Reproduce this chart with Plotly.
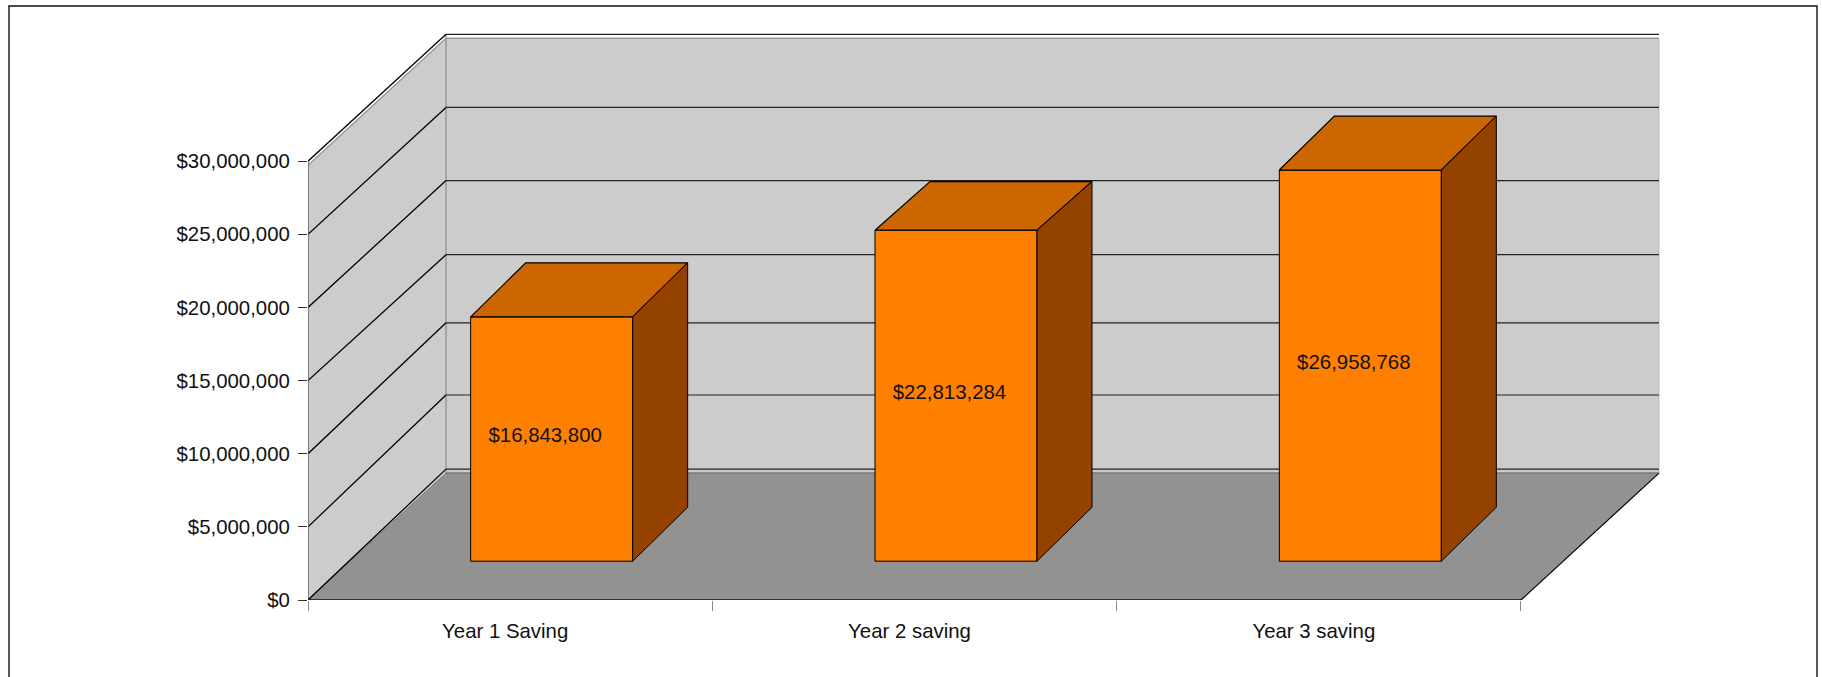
import plotly.graph_objects as go

# ---- data ----
categories = ["Year 1 Saving", "Year 2 saving", "Year 3 saving"]
savings = [16843800, 22813284, 26958768]
y_ticks = [0, 5000000, 10000000, 15000000, 20000000, 25000000, 30000000]

# ---- oblique projection of the reference (pixel sizes turned into axis units) ----
W, H = 1822, 677
X0, Y0 = 308, 600.5            # pixel position of the front-left floor corner
CAT_PX = 404.33                # pixels per category
TICK_PX = 73.2                 # pixels per $5M


def dx(px):
    return px / CAT_PX


def dy(px):
    return px * 5000000 / TICK_PX


MARGIN_T, MARGIN_R = 20, 140
x_range = [0, dx(W - MARGIN_R - X0)]
y_range = [0, dy(Y0 - MARGIN_T)]

WALL_X, WALL_Y = dx(138), dy(127)      # depth of the floor and of the walls
FRONT_SCALE = 0.992                    # the bars stand inside the box, so they read slightly short
BAR_W = dx(162)
BAR_SHIFT_X, BAR_SHIFT_Y = dx(41.5), dy(38.8)
BAR_DX = dx(55)
BAR_RISE = [54, 48.7, 54]              # rise of each bar's top face, px
BAR_BASE_RISE = 54
GRID_RISE = [131, 132, 131, 126, 127, 127, 127]   # back-wall gridline rise per tick, px
N = len(categories)
RIGHT_X = N + WALL_X

ORANGE, TOP, SIDE = "#FF7F00", "#CC6600", "#934200"
WALL, FLOOR = "#CCCCCC", "#929292"
FONT = "Liberation Sans"
FONT_SIZE = 20.4
INK = "#111111"


def poly(xs, ys, fill, line="rgba(0,0,0,0)", width=0):
    path = "M " + " L ".join(f"{a},{b}" for a, b in zip(xs, ys)) + " Z"
    return dict(type="path", path=path, xref="x", yref="y", layer="below",
                fillcolor=fill, line=dict(color=line, width=width))


def seg(x0, y0, x1, y1, color="#000000", width=1):
    return dict(type="line", x0=x0, y0=y0, x1=x1, y1=y1, xref="x", yref="y", layer="below",
                line=dict(color=color, width=width))


top = y_ticks[-1]
gap = dy(4)
shapes = [
    poly([WALL_X, RIGHT_X, RIGHT_X, WALL_X],
         [top + WALL_Y - gap, top + WALL_Y - gap, WALL_Y, WALL_Y], WALL),
    poly([0, WALL_X, WALL_X, 0], [top - gap, top + WALL_Y - gap, WALL_Y, 0], WALL),
    poly([0, N, RIGHT_X, WALL_X], [0, 0, WALL_Y, WALL_Y], FLOOR),
    seg(WALL_X, WALL_Y, RIGHT_X, WALL_Y, "#777777", 1.5),
    seg(WALL_X, top + WALL_Y - gap, RIGHT_X, top + WALL_Y - gap, "#999999", 1.5),
    seg(0, top - gap, WALL_X, top + WALL_Y - gap, "#999999", 1.5),
    seg(WALL_X, WALL_Y, WALL_X, top + WALL_Y, "#999999", 1.5),
    seg(RIGHT_X, WALL_Y, RIGHT_X, top + WALL_Y - gap, "#BBBBBB", 1),
    seg(0, 0, WALL_X, WALL_Y, "#777777", 1),
]
for t, rise in zip(y_ticks, GRID_RISE):
    shapes.append(seg(0, t, WALL_X, t + dy(rise), "#000000", 1.3))
    shapes.append(seg(WALL_X, t + dy(rise), RIGHT_X, t + dy(rise), "#222222", 1.2))
shapes.append(seg(N, 0, RIGHT_X, WALL_Y, "#000000", 1.2))

fig = go.Figure()

centers = [i + 0.5 + BAR_SHIFT_X for i in range(N)]
drawn = [v * FRONT_SCALE for v in savings]
fig.add_trace(go.Bar(
    x=centers, y=drawn, base=[BAR_SHIFT_Y] * N, width=[BAR_W] * N,
    marker=dict(color=ORANGE, line=dict(color="#000000", width=1)),
    hoverinfo="skip", showlegend=False,
))

for c, h, rise in zip(centers, drawn, BAR_RISE):
    l, r = c - BAR_W / 2, c + BAR_W / 2
    b, t = BAR_SHIFT_Y, BAR_SHIFT_Y + h
    fig.add_trace(go.Scatter(
        x=[l, r, r + BAR_DX, l + BAR_DX, l], y=[t, t, t + dy(rise), t + dy(rise), t],
        mode="lines", fill="toself", fillcolor=TOP, line=dict(color="#000000", width=1.2),
        hoverinfo="skip", showlegend=False, cliponaxis=False))
    fig.add_trace(go.Scatter(
        x=[r, r + BAR_DX, r + BAR_DX, r, r], y=[t, t + dy(rise), b + dy(BAR_BASE_RISE), b, t],
        mode="lines", fill="toself", fillcolor=SIDE, line=dict(color="#000000", width=1),
        hoverinfo="skip", showlegend=False, cliponaxis=False))

fig.add_trace(go.Scatter(
    x=[c - dx(6.5) for c in centers],
    y=[BAR_SHIFT_Y + h / 2 + dy(2) for h in drawn],
    mode="text", text=[f"${v:,}" for v in savings], textposition="middle center",
    textfont=dict(family=FONT, size=FONT_SIZE, color=INK),
    hoverinfo="skip", showlegend=False, cliponaxis=False))

# front edges of the box
fig.add_trace(go.Scatter(x=[0, 0], y=[0, top], mode="lines", line=dict(color="#444444", width=1.2),
                         hoverinfo="skip", showlegend=False, cliponaxis=False))
fig.add_trace(go.Scatter(x=[0, N], y=[0, 0], mode="lines", line=dict(color="#111111", width=1.6),
                         hoverinfo="skip", showlegend=False, cliponaxis=False))

fig.update_layout(
    width=W, height=H, autosize=False,
    margin=dict(l=X0, r=MARGIN_R, t=MARGIN_T, b=H - Y0, pad=0),
    paper_bgcolor="#FFFFFF", plot_bgcolor="#FFFFFF",
    barmode="overlay", showlegend=False, shapes=shapes + [
        dict(type="rect", xref="paper", yref="paper", layer="above",
             x0=(9 - X0) / (W - X0 - MARGIN_R), x1=(1817 - X0) / (W - X0 - MARGIN_R),
             y0=-0.3, y1=(Y0 - 6) / (Y0 - MARGIN_T),
             line=dict(color="#111111", width=1.4), fillcolor="rgba(0,0,0,0)"),
    ],
    xaxis=dict(
        range=x_range, showgrid=False, zeroline=False, showline=False,
        tickmode="array", tickvals=[i + 0.5 - dx(5) for i in range(N)], ticktext=categories,
        ticks="", ticklabelstandoff=17,
        tickfont=dict(family=FONT, size=FONT_SIZE, color=INK),
        minor=dict(tickmode="array", tickvals=list(range(N + 1)), ticks="outside",
                   ticklen=10, tickcolor="#888888", tickwidth=1, showgrid=False),
    ),
    yaxis=dict(
        range=y_range, showgrid=False, zeroline=False, showline=False,
        tickmode="array", tickvals=y_ticks, tickformat="$,d",
        ticks="outside", ticklen=9, tickcolor="#333333", tickwidth=1,
        ticklabelstandoff=4,
        tickfont=dict(family=FONT, size=FONT_SIZE, color=INK),
    ),
)

fig.write_html("out.html", config={"displayModeBar": False},
               post_script="document.body.style.margin='0';document.body.style.overflow='hidden';")
